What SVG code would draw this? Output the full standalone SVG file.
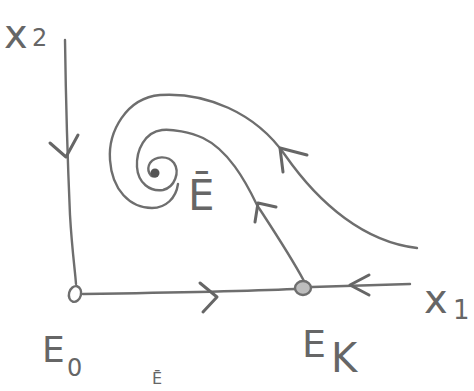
<svg xmlns="http://www.w3.org/2000/svg" width="474" height="391" viewBox="0 0 474 391">
<style>
.p{fill:none;stroke:#6e6e6e;stroke-width:2.4;stroke-linecap:round;stroke-linejoin:round}
.a{fill:none;stroke:#666;stroke-width:3;stroke-linecap:round;stroke-linejoin:round}
.t{font-family:"DejaVu Sans","Liberation Sans",sans-serif;fill:#666}
</style>
<rect width="474" height="391" fill="#fff"/>
<g id="axes">
<path class="p" d="M65,40 C66,110 68,170 70,215 C72,250 75,270 76,284"/>
<path class="p" d="M83,294 C150,293 250,291 295,289"/>
<path class="p" d="M312,287 L410,284"/>
<text class="t" x="4" y="48" font-size="40">x</text>
<text class="t" x="32" y="46" font-size="24">2</text>
<text class="t" x="424" y="313" font-size="40">x</text>
<text class="t" x="453" y="319" font-size="26">1</text>
</g>
<g id="connectors">
<path class="p" d="M417,248 C365,242 320,205 285,155 C255,112 205,92 160,95 C126,98 108,132 110,160 C112,190 130,208 152,208 C166,208 176,198 178,184"/>
<path class="p" d="M304,281 C290,255 270,225 257,205 C245,180 228,150 203,138 C190,132 172,129 162,130 C145,132 136,150 137,167 C138,183 150,192 163,190 C175,187 180,172 174,163 C168,155 155,156 150,163 C146,170 150,178 156,176"/>
<polyline class="a" points="50,143 66,157 78,135"/>
<polyline class="a" points="200,283 217,297 203,312"/>
<polyline class="a" points="369,275 350,285 369,295"/>
<polyline class="a" points="283,172 280,148 307,155"/>
<polyline class="a" points="255,222 258,203 276,207"/>
</g>
<g id="E0">
<ellipse cx="75" cy="294" rx="6" ry="8" transform="rotate(15 75 294)" fill="#fff" stroke="#6e6e6e" stroke-width="2.4"/>
<text class="t" x="42" y="362" font-size="36">E</text>
<text class="t" x="67" y="376" font-size="24">0</text>
</g>
<g id="EK">
<ellipse cx="303" cy="288" rx="8" ry="7" fill="#bdbdbd" stroke="#6e6e6e" stroke-width="2.4"/>
<text class="t" x="302" y="357" font-size="38">E</text>
<text class="t" x="331" y="372" font-size="40">K</text>
</g>
<g id="Ebar">
<circle cx="155" cy="173" r="4.5" fill="#555"/>
<text class="t" x="188" y="210" font-size="42">Ē</text>
</g>
<g id="bottom-label">
<text class="t" x="152" y="384" font-size="16">Ē</text>
</g>
</svg>
